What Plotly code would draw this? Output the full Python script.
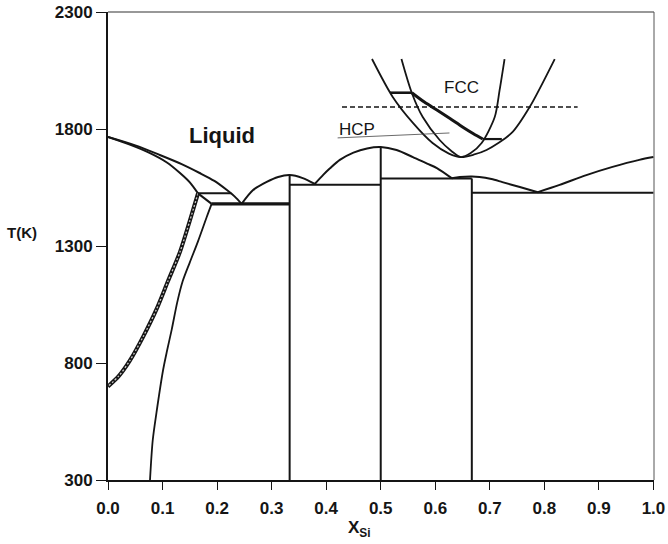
import plotly.graph_objects as go

# ---------------- data (X_Si, T in K) ----------------
liq_co_x = [0.0, 0.05, 0.095, 0.135, 0.168, 0.195, 0.218, 0.232, 0.245]
liq_co_T = [1766, 1730, 1689, 1650, 1612, 1578, 1539, 1512, 1480]

sol_co_x = [0.0, 0.04, 0.077, 0.108, 0.132, 0.150, 0.165]
sol_co_T = [1766, 1733, 1697, 1657, 1612, 1572, 1525]

solvus_co_x = [0.165, 0.150, 0.132, 0.110, 0.089, 0.065, 0.040, 0.020, 0.0]
solvus_co_T = [1525, 1408, 1275, 1150, 1030, 915, 810, 745, 700]

co2si_left_x = [0.190, 0.181, 0.165, 0.150, 0.137, 0.127, 0.117, 0.108, 0.101, 0.089, 0.082, 0.077]
co2si_left_T = [1480, 1424, 1320, 1230, 1150, 1060, 945, 850, 770, 590, 470, 300]

peritectic_x = [0.165, 0.226]
peritectic_T = [1525, 1525]
diag_x = [0.165, 0.190]
diag_T = [1525, 1480]
eut1_x = [0.190, 0.333]
eut1_T = [1480, 1480]

liq_co2si_x = [0.245, 0.266, 0.291, 0.312, 0.333, 0.357, 0.379]
liq_co2si_T = [1480, 1539, 1574, 1595, 1603, 1590, 1565]

liq_cosi_x = [0.379, 0.395, 0.407, 0.425, 0.450, 0.475, 0.500, 0.529, 0.559, 0.585, 0.603, 0.630]
liq_cosi_T = [1565, 1605, 1632, 1668, 1699, 1717, 1723, 1710, 1680, 1652, 1633, 1590]

liq_cosi2_x = [0.630, 0.645, 0.667, 0.681, 0.703, 0.723, 0.755, 0.788]
liq_cosi2_T = [1590, 1595, 1597, 1595, 1586, 1573, 1552, 1530]

liq_si_x = [0.788, 0.828, 0.877, 0.925, 0.974, 1.0]
liq_si_T = [1530, 1561, 1603, 1638, 1668, 1680]

eut2_x = [0.333, 0.500]
eut2_T = [1562, 1562]
eut3_x = [0.500, 0.667]
eut3_T = [1588, 1588]
eut4_x = [0.667, 1.0]
eut4_T = [1528, 1528]

vert_x = [0.333, 0.500, 0.667]
vert_top_T = [1603, 1723, 1588]
T_min = 300

# metastable FCC / HCP curves
outer_x = [0.484, 0.522, 0.559, 0.595, 0.625, 0.647, 0.670, 0.694, 0.740, 0.773, 0.819]
outer_T = [2099, 1937, 1826, 1740, 1695, 1680, 1690, 1710, 1783, 1894, 2099]
inner_x = [0.538, 0.557, 0.577, 0.608, 0.630, 0.647, 0.665, 0.685, 0.709, 0.718, 0.727]
inner_T = [2099, 1954, 1851, 1753, 1705, 1680, 1697, 1740, 1851, 1967, 2099]

tie1_x = [0.517, 0.557]
tie1_T = [1955, 1955]
fcc_thick_x = [0.557, 0.580, 0.603, 0.627, 0.650, 0.670, 0.687]
fcc_thick_T = [1955, 1915, 1881, 1845, 1809, 1780, 1757]
tie2_x = [0.687, 0.722]
tie2_T = [1757, 1757]

dashed_x = [0.429, 0.861]
dashed_T = [1894, 1894]

hcp_line_x = [0.421, 0.626]
hcp_line_T = [1762, 1783]

x_ticks = [0.0, 0.1, 0.2, 0.3, 0.4, 0.5, 0.6, 0.7, 0.8, 0.9, 1.0]
x_tick_labels = ["0.0", "0.1", "0.2", "0.3", "0.4", "0.5", "0.6", "0.7", "0.8", "0.9", "1.0"]
y_ticks = [300, 800, 1300, 1800, 2300]
y_tick_labels = ["300", "800", "1300", "1800", "2300"]

# ---------------- figure ----------------
INK = "#151515"
FONT = "Liberation Sans, Arial, sans-serif"

fig = go.Figure()

def add(x, y, w=2.0, color=INK, dash=None):
    fig.add_trace(go.Scatter(x=x, y=y, mode="lines",
                             line=dict(color=color, width=w, dash=dash, shape="spline", smoothing=0.8),
                             hoverinfo="skip", showlegend=False))

def add_straight(x, y, w=2.0, color=INK, dash=None):
    fig.add_trace(go.Scatter(x=x, y=y, mode="lines",
                             line=dict(color=color, width=w, dash=dash),
                             hoverinfo="skip", showlegend=False))

add(liq_co_x, liq_co_T)
add(sol_co_x, sol_co_T)
# hatched double line for Co solvus
add(solvus_co_x, solvus_co_T, w=4.0)
add(solvus_co_x, solvus_co_T, w=1.3, color="#c8c8c8", dash="2px,2px")
add(co2si_left_x, co2si_left_T, w=1.8)
add_straight(peritectic_x, peritectic_T, w=2.0)
add_straight(diag_x, diag_T, w=2.0)
add_straight(eut1_x, eut1_T, w=3.2)
add(liq_co2si_x, liq_co2si_T)
add(liq_cosi_x, liq_cosi_T)
add(liq_cosi2_x, liq_cosi2_T)
add(liq_si_x, liq_si_T)
add_straight(eut2_x, eut2_T)
add_straight(eut3_x, eut3_T)
add_straight(eut4_x, eut4_T)
for vx, vt in zip(vert_x, vert_top_T):
    add_straight([vx, vx], [vt, T_min], w=2.0)

add(outer_x, outer_T, w=1.8)
add(inner_x, inner_T, w=1.8)
add_straight(tie1_x, tie1_T, w=2.6)
add(fcc_thick_x, fcc_thick_T, w=3.0)
add_straight(tie2_x, tie2_T, w=2.2)
add_straight(dashed_x, dashed_T, w=1.6, dash="5px,3px")
add_straight(hcp_line_x, hcp_line_T, w=0.8, color="#444")

fig.update_layout(
    width=668, height=544,
    margin=dict(l=108, r=14, t=12, b=64, autoexpand=False),
    paper_bgcolor="white", plot_bgcolor="white",
    showlegend=False,
    font=dict(family=FONT, color=INK, size=17),
)

tickfont = dict(family=FONT, size=17, color=INK, weight="bold")
fig.update_xaxes(range=[0, 1.001], tickvals=x_ticks, ticktext=x_tick_labels,
                 showgrid=False, zeroline=False, automargin=False,
                 showline=True, linecolor=INK, linewidth=2,
                 ticks="outside", ticklen=8, tickwidth=1, tickcolor=INK,
                 ticklabelstandoff=4, tickfont=tickfont)
fig.update_yaxes(range=[300, 2300], tickvals=y_ticks, ticktext=y_tick_labels,
                 showgrid=False, zeroline=False, automargin=False,
                 showline=True, linecolor=INK, linewidth=2,
                 ticks="outside", ticklen=10, tickwidth=1, tickcolor=INK,
                 tickfont=tickfont)

# top and right frame lines (thinner)
fig.add_shape(type="line", xref="paper", yref="paper", x0=0, x1=1, y0=1, y1=1,
              line=dict(color="#333", width=1.2))
fig.add_shape(type="line", xref="paper", yref="paper", x0=1, x1=1, y0=0, y1=1,
              line=dict(color="#555", width=1))

fig.add_annotation(x=0.209, y=1774, text="Liquid", showarrow=False,
                   font=dict(family=FONT, size=22, color=INK, weight="bold"))
fig.add_annotation(x=0.648, y=1979, text="FCC", showarrow=False,
                   font=dict(family=FONT, size=17, color=INK))
fig.add_annotation(x=0.456, y=1796, text="HCP", showarrow=False,
                   font=dict(family=FONT, size=17, color=INK))
fig.add_annotation(xref="paper", yref="paper", x=-0.158, y=0.528, text="T(K)",
                   showarrow=False, xanchor="center", yanchor="middle",
                   font=dict(family=FONT, size=15, color=INK, weight="bold"))
fig.add_annotation(xref="paper", yref="paper", x=0.436, y=-0.076, text="X<sub>Si</sub>",
                   showarrow=False, xanchor="left", yanchor="top",
                   font=dict(family=FONT, size=17, color=INK, weight="bold"))

fig.write_html("out.html")
